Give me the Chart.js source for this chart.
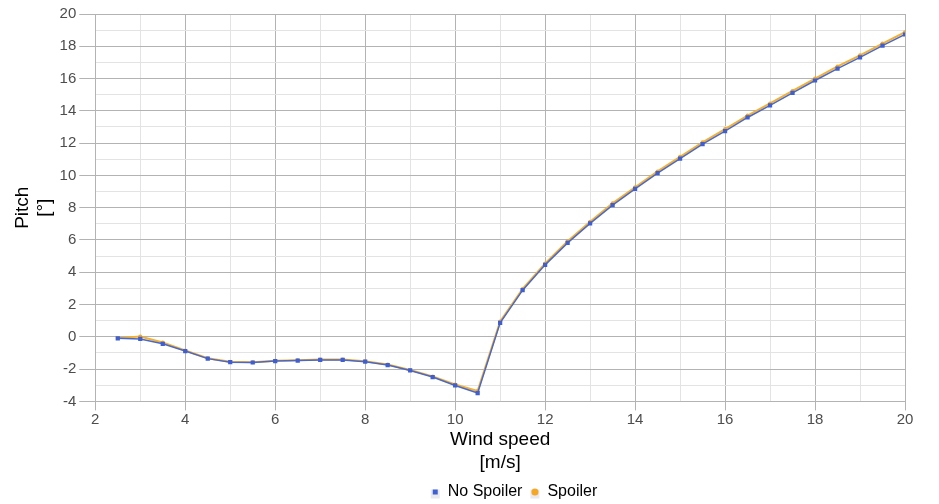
<!DOCTYPE html>
<html lang="en">
<head>
<meta charset="UTF-8">
<title>Pitch vs wind speed</title>
<script src="https://cdn.jsdelivr.net/npm/chart.js"></script>
<style>
  body { margin: 0; background: #fff; }
  #wrap { width: 939px; height: 504px; }
</style>
</head>
<body>
<div id="wrap"><canvas id="myChart"></canvas></div>
<script>
// wind speed [m/s]
var windSpeed = [2.5, 3, 3.5, 4, 4.5, 5, 5.5, 6, 6.5, 7, 7.5, 8, 8.5, 9, 9.5, 10, 10.5,
                 11, 11.5, 12, 12.5, 13, 13.5, 14, 14.5, 15, 15.5, 16, 16.5, 17, 17.5, 18, 18.5, 19, 19.5, 20];
// pitch [deg]
var pitchNoSpoiler = [-0.09, -0.13, -0.43, -0.88, -1.35, -1.57, -1.59, -1.5, -1.47, -1.43, -1.43, -1.54, -1.75, -2.08, -2.49, -3.01, -3.48,
                      0.87, 2.89, 4.46, 5.82, 7.03, 8.16, 9.16, 10.14, 11.04, 11.94, 12.75, 13.59, 14.34, 15.11, 15.88, 16.62, 17.31, 18.04, 18.73];
var pitchSpoiler = [-0.08, 0.02, -0.35, -0.85, -1.33, -1.55, -1.57, -1.48, -1.45, -1.41, -1.40, -1.52, -1.72, -2.05, -2.45, -2.95, -3.35,
                    0.95, 2.97, 4.55, 5.92, 7.13, 8.27, 9.27, 10.25, 11.15, 12.05, 12.87, 13.71, 14.46, 15.23, 16.0, 16.75, 17.44, 18.17, 18.87];

function toPoints(ys) {
    return windSpeed.map(function (x, i) { return { x: x, y: ys[i] }; });
}

var majorGrid = '#b3b3b3';
var minorGrid = '#e3e3e3';

function gridColor(ctx) {
    return (ctx.tick && ctx.tick.value % 2 === 0) ? majorGrid : minorGrid;
}
function tickColor(ctx) {
    return (ctx.tick && ctx.tick.value % 2 === 0) ? majorGrid : 'rgba(0,0,0,0)';
}

// move the legend a bit right/down like the original, and put a grey square behind each marker
var legendTweaks = {
    id: 'legendTweaks',
    afterLayout: function (chart) {
        var lg = chart.legend;
        if (!lg) return;
        var dx = 514 - (lg.left + lg.right) / 2;
        var dy = 2;
        lg.left += dx; lg.right += dx;
        lg.top += dy; lg.bottom += dy;
        (lg.legendHitBoxes || []).forEach(function (hb) {
            hb.left += dx;
            hb.top += dy;
        });
    },
    beforeDraw: function (chart) {
        var lg = chart.legend;
        if (!lg || !lg.legendHitBoxes) return;
        var c = chart.ctx;
        c.save();
        c.fillStyle = '#e8e8ee';
        lg.legendHitBoxes.forEach(function (hb) {
            var cx = hb.left + 4.5;
            var cy = hb.top + hb.height / 2;
            c.fillRect(cx - 4.5, cy - 4.5, 9, 9);
        });
        c.restore();
    }
};

var data = {
    datasets: [{
        label: 'No Spoiler',
        data: toPoints(pitchNoSpoiler),
        borderColor: '#4a68c9',
        backgroundColor: '#3f5fd0',
        borderWidth: 1.5,
        pointStyle: 'rect',
        pointRadius: 3,
        pointBorderWidth: 0,
        order: 1
    }, {
        label: 'Spoiler',
        data: toPoints(pitchSpoiler),
        borderColor: '#f2b134',
        backgroundColor: '#f5a623',
        borderWidth: 2,
        pointStyle: 'circle',
        pointRadius: 2,
        pointBorderWidth: 0,
        order: 2
    }]
};

var options = {
    responsive: true,
    maintainAspectRatio: false,
    animation: false,
    layout: { padding: { top: 14, right: 34, left: 5, bottom: -4 } },
    elements: { line: { tension: 0 } },
    scales: {
        x: {
            type: 'linear',
            min: 2,
            max: 20,
            border: { color: majorGrid },
            grid: { color: gridColor, tickColor: tickColor, tickLength: 9 },
            ticks: {
                stepSize: 1,
                color: '#4d4d4d',
                font: { family: 'Liberation Sans, Arial', size: 15 },
                padding: 0,
                maxRotation: 0,
                autoSkip: false,
                callback: function (v) { return v % 2 === 0 ? v : ''; }
            },
            title: {
                display: true,
                text: ['Wind speed', '[m/s]'],
                color: '#000',
                font: { family: 'Liberation Sans, Arial', size: 19 },
                padding: { top: 0, bottom: 0 }
            }
        },
        y: {
            type: 'linear',
            min: -4,
            max: 20,
            border: { color: majorGrid },
            grid: { color: gridColor, tickColor: tickColor, tickLength: 16 },
            ticks: {
                stepSize: 1,
                color: '#4d4d4d',
                font: { family: 'Liberation Sans, Arial', size: 15 },
                padding: 3,
                autoSkip: false,
                callback: function (v) { return v % 2 === 0 ? v : ''; }
            },
            title: {
                display: true,
                text: ['Pitch', '[°]'],
                color: '#000',
                font: { family: 'Liberation Sans, Arial', size: 19 },
                padding: { top: 6, bottom: 0 }
            }
        }
    },
    plugins: {
        legend: {
            position: 'bottom',
            labels: {
                usePointStyle: true,
                boxWidth: 9,
                boxHeight: 5,
                color: '#000',
                padding: 8,
                font: { family: 'Liberation Sans, Arial', size: 16 }
            }
        },
        tooltip: { enabled: false }
    }
};

var ctx = document.getElementById('myChart').getContext('2d');
var myChart = new Chart(ctx, { type: 'line', data: data, options: options, plugins: [legendTweaks] });
</script>
</body>
</html>
